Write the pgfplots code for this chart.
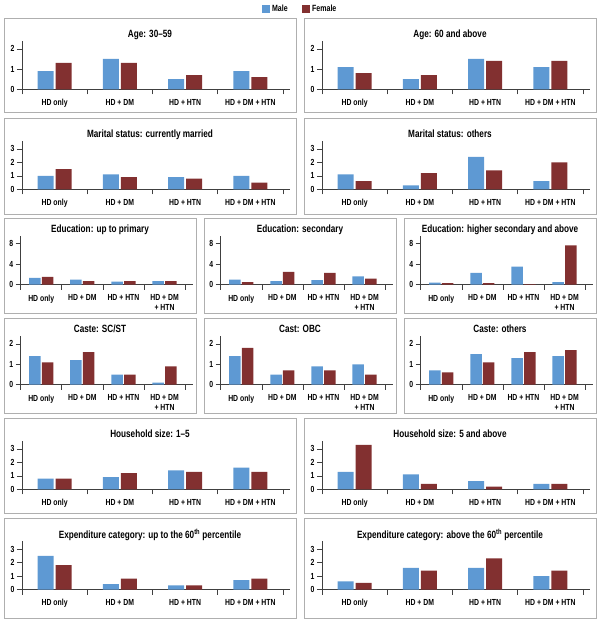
\documentclass[border=0pt]{standalone}
\usepackage{fontspec}
\setmainfont{Liberation Sans}[FakeStretch=0.78, UprightFont={* Bold}]
\usepackage{pgfplots}
\pgfplotsset{compat=1.18}
\definecolor{male}{RGB}{94,153,211}
\definecolor{female}{RGB}{130,48,48}
\definecolor{framec}{RGB}{175,175,175}
\newcommand{\tfont}{\fontsize{10.5}{12}\selectfont}
\newcommand{\kfont}{\fontsize{8.8}{9.5}\selectfont}
\pgfplotsset{
 panel/.style={
  scale only axis, anchor=south west,
  axis lines=left,
  axis line style={-, draw=black!75, line width=0.6pt},
  every outer x axis line/.append style={-},
  every outer y axis line/.append style={-},
  xmin=-0.5, ymin=0,
  ybar,
  tick align=outside,
  major tick length=5pt, minor tick length=5pt,
  tick style={draw=black!75, line width=0.6pt},
  xtick={0,1,2,3},
  minor xtick={-0.5,0.5,1.5,2.5,3.5},
  every major x tick/.append style={draw=none},
  xticklabel style={font=\kfont, yshift=-1.5pt},
  yticklabel style={font=\kfont, xshift=1pt},
  /pgf/number format/assume math mode=true,
  clip=false,
 },
 wide/.style={panel, x=65.25pt, xmax=3.607, bar width=16pt, ybar=2pt,
   xticklabels={HD only, HD + DM, HD + HTN, HD + DM + HTN}},
 narrow/.style={panel, x=41.1pt, xmax=3.69, bar width=11.5pt, ybar=1.2pt,
   xticklabels={HD only, HD + DM, HD + HTN, {HD + DM\\+ HTN}},
   xticklabel style={align=center}},
 s2/.style={y=20.25pt, ymax=2.4, ytick={0,1,2}},
 s3/.style={y=13.5pt, ymax=3.6, ytick={0,1,2,3}},
 s8/.style={y=5.16pt, ymax=9.5, ytick={0,4,8}},
 m/.style={fill=male, draw=none, legend image code/.code={\fill[male] (0pt,-4pt) rectangle (8.5pt,4.5pt);}},
 f/.style={fill=female, draw=none, legend image code/.code={\fill[female] (0pt,-4pt) rectangle (8.5pt,4.5pt);}},
}
\begin{document}
\begin{tikzpicture}
\useasboundingbox (0pt,0pt) rectangle (600pt,-621pt);
% frames
\begin{scope}[draw=framec, line width=1pt]
\draw (4pt,-18pt) rectangle (296pt,-112pt);
\draw (304pt,-18pt) rectangle (596pt,-112pt);
\draw (4pt,-118pt) rectangle (296pt,-214pt);
\draw (304pt,-118pt) rectangle (596pt,-214pt);
\draw (4pt,-218pt) rectangle (196pt,-313pt);
\draw (204pt,-218pt) rectangle (396pt,-313pt);
\draw (404pt,-218pt) rectangle (596pt,-313pt);
\draw (4pt,-318pt) rectangle (196pt,-413pt);
\draw (204pt,-318pt) rectangle (396pt,-413pt);
\draw (404pt,-318pt) rectangle (596pt,-413pt);
\draw (4pt,-418pt) rectangle (296pt,-513pt);
\draw (304pt,-418pt) rectangle (596pt,-513pt);
\draw (4pt,-518pt) rectangle (296pt,-618pt);
\draw (304pt,-518pt) rectangle (596pt,-618pt);
\end{scope}
% titles
\begin{scope}[every node/.style={anchor=base, font=\tfont, inner sep=0pt}]
\node at (150pt,-37.7pt) {Age: 30–59};
\node at (450pt,-37.7pt) {Age: 60 and above};
\node at (150pt,-137.7pt) {Marital status: currently married};
\node at (450pt,-137.7pt) {Marital status: others};
\node at (100pt,-232.7pt) {Education: up to primary};
\node at (300pt,-232.7pt) {Education: secondary};
\node at (500pt,-232.7pt) {Education: higher secondary and above};
\node at (100pt,-332.7pt) {Caste: SC/ST};
\node at (300pt,-332.7pt) {Cast: OBC};
\node at (500pt,-332.7pt) {Caste: others};
\node at (150pt,-437.7pt) {Household size: 1–5};
\node at (450pt,-437.7pt) {Household size: 5 and above};
\node at (150pt,-538pt) {Expenditure category: up to the 60\textsuperscript{th} percentile};
\node at (450pt,-538pt) {Expenditure category: above the 60\textsuperscript{th} percentile};
\end{scope}
% Row 1
\begin{axis}[wide, s2, at={(22pt,-89.3pt)},
  legend style={at={(rel axis cs:1.0373,1.652)}, anchor=center, draw=none, fill=none,
    legend columns=2, font=\fontsize{9}{10}\selectfont,
    /tikz/every even column/.append style={column sep=12pt}}]
\addplot[m] coordinates {(0,0.9)(1,1.5)(2,0.5)(3,0.9)};
\addplot[f] coordinates {(0,1.3)(1,1.3)(2,0.7)(3,0.6)};
\addlegendentry{Male}
\addlegendentry{Female}
\end{axis}
\begin{axis}[wide, s2, at={(322pt,-89.3pt)}]
\addplot[m] coordinates {(0,1.1)(1,0.5)(2,1.5)(3,1.1)};
\addplot[f] coordinates {(0,0.8)(1,0.7)(2,1.4)(3,1.4)};
\end{axis}
% Row 2
\begin{axis}[wide, s3, at={(22pt,-189.3pt)}]
\addplot[m] coordinates {(0,1.0)(1,1.1)(2,0.9)(3,1.0)};
\addplot[f] coordinates {(0,1.5)(1,0.9)(2,0.8)(3,0.5)};
\end{axis}
\begin{axis}[wide, s3, at={(322pt,-189.3pt)}]
\addplot[m] coordinates {(0,1.1)(1,0.3)(2,2.4)(3,0.6)};
\addplot[f] coordinates {(0,0.6)(1,1.2)(2,1.4)(3,2.0)};
\end{axis}
% Row 3
\begin{axis}[narrow, s8, at={(20.7pt,-284.7pt)}]
\addplot[m] coordinates {(0,1.3)(1,1.0)(2,0.6)(3,0.7)};
\addplot[f] coordinates {(0,1.5)(1,0.7)(2,0.7)(3,0.7)};
\end{axis}
\begin{axis}[narrow, s8, at={(220.7pt,-284.7pt)}]
\addplot[m] coordinates {(0,1.0)(1,0.7)(2,0.9)(3,1.6)};
\addplot[f] coordinates {(0,0.5)(1,2.5)(2,2.3)(3,1.2)};
\end{axis}
\begin{axis}[narrow, s8, at={(420.7pt,-284.7pt)}]
\addplot[m] coordinates {(0,0.4)(1,2.3)(2,3.5)(3,0.5)};
\addplot[f] coordinates {(0,0.3)(1,0.3)(2,0.1)(3,7.6)};
\end{axis}
% Row 4
\begin{axis}[narrow, s2, y=20.4pt, at={(20.7pt,-384.7pt)}]
\addplot[m] coordinates {(0,1.4)(1,1.2)(2,0.5)(3,0.1)};
\addplot[f] coordinates {(0,1.1)(1,1.6)(2,0.5)(3,0.9)};
\end{axis}
\begin{axis}[narrow, s2, y=20.4pt, at={(220.7pt,-384.7pt)}]
\addplot[m] coordinates {(0,1.4)(1,0.5)(2,0.9)(3,1.0)};
\addplot[f] coordinates {(0,1.8)(1,0.7)(2,0.7)(3,0.5)};
\end{axis}
\begin{axis}[narrow, s2, y=20.4pt, at={(420.7pt,-384.7pt)}]
\addplot[m] coordinates {(0,0.7)(1,1.5)(2,1.3)(3,1.4)};
\addplot[f] coordinates {(0,0.6)(1,1.1)(2,1.6)(3,1.7)};
\end{axis}
% Row 5
\begin{axis}[wide, s3, at={(22pt,-489.3pt)}]
\addplot[m] coordinates {(0,0.8)(1,0.9)(2,1.4)(3,1.6)};
\addplot[f] coordinates {(0,0.8)(1,1.2)(2,1.3)(3,1.3)};
\end{axis}
\begin{axis}[wide, s3, at={(322pt,-489.3pt)}]
\addplot[m] coordinates {(0,1.3)(1,1.1)(2,0.6)(3,0.4)};
\addplot[f] coordinates {(0,3.3)(1,0.4)(2,0.2)(3,0.4)};
\end{axis}
% Row 6
\begin{axis}[wide, s3, at={(22pt,-589.5pt)}]
\addplot[m] coordinates {(0,2.5)(1,0.4)(2,0.3)(3,0.7)};
\addplot[f] coordinates {(0,1.8)(1,0.8)(2,0.3)(3,0.8)};
\end{axis}
\begin{axis}[wide, s3, at={(322pt,-589.5pt)}]
\addplot[m] coordinates {(0,0.6)(1,1.6)(2,1.6)(3,1.0)};
\addplot[f] coordinates {(0,0.5)(1,1.4)(2,2.3)(3,1.4)};
\end{axis}
\end{tikzpicture}
\end{document}
